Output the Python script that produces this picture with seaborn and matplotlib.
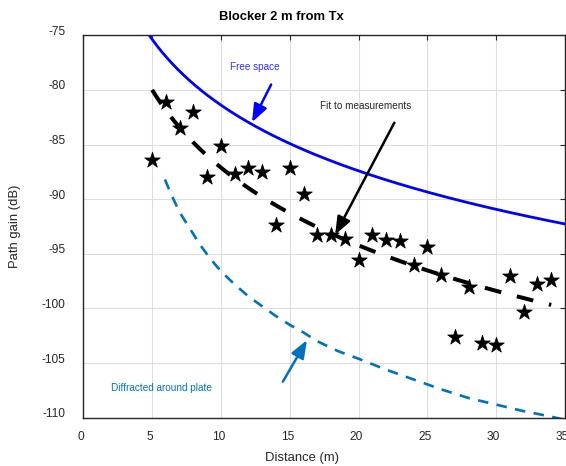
import numpy as np
import pandas as pd
import matplotlib
matplotlib.use("Agg")
import matplotlib.pyplot as plt
import seaborn as sns
from matplotlib.transforms import ScaledTranslation

# Measured path gain with the blocker 2 m from the transmitter
distance_m = [5, 6, 7, 8, 9, 10, 11, 12, 13, 14, 15, 16, 17, 18, 19, 20, 21, 22,
              23, 24, 25, 26, 27, 28, 29, 30, 31, 32, 33, 34]
measured_db = [-86.4, -81.1, -83.5, -82.0, -88.0, -85.1, -87.7, -87.1, -87.5, -92.4,
               -87.1, -89.5, -93.3, -93.3, -93.6, -95.6, -93.3, -93.7, -93.8, -96.0,
               -94.4, -96.9, -102.6, -98.0, -103.2, -103.3, -97.0, -100.3, -97.8, -97.4]

# Diffraction-around-plate prediction
diffr_d = [5.93, 6.4, 7.0, 7.5, 8.0, 8.5, 9.2, 10.0, 11.0, 12.0, 13.0, 14.0, 15.0,
           16.0, 17.0, 18.5, 20.0, 22.0, 24.0, 26.0, 28.0, 30.0, 32.0, 34.0, 35.0]
diffr_db = [-88.2, -89.6, -91.2, -92.2, -93.2, -94.2, -95.4, -96.6, -97.8, -98.9,
            -99.8, -100.7, -101.5, -102.2, -103.0, -103.9, -104.6, -105.6, -106.5,
            -107.4, -108.2, -108.8, -109.4, -109.9, -110.2]

x_ticks = [0, 5, 10, 15, 20, 25, 30, 35]
y_ticks = [-110, -105, -100, -95, -90, -85, -80, -75]

# Free-space (Friis) path gain at 28 GHz
freq_hz = 28e9
c_light = 3e8
fs_d = np.linspace(1.0, 35.0, 300)
fs_db = -20 * np.log10(4 * np.pi * fs_d * freq_hz / c_light)

# Log-distance least-squares fit to the measurements
slope, icpt = np.polyfit(np.log10(distance_m), measured_db, 1)
fit_d = np.linspace(min(distance_m), max(distance_m), 200)
fit_db = icpt + slope * np.log10(fit_d)

sns.set_theme(style="white")
plt.rcParams["font.family"] = ["Liberation Sans", "DejaVu Sans"]

fig = plt.figure(figsize=(5.66, 4.66), dpi=100)
ax = fig.add_axes([0.1472, 0.1036, 0.8510, 0.8206])

blue = "#0000FF"
mblue = "#0072BD"
dark = "#262626"

sns.lineplot(x=fs_d, y=fs_db, ax=ax, color=blue, lw=2.0, sort=False)
sns.lineplot(x=diffr_d, y=diffr_db, ax=ax, color=mblue, lw=1.9, sort=False,
             linestyle=(0, (4.0, 3.2)))
sns.lineplot(x=fit_d, y=fit_db, ax=ax, color="black", lw=2.9, sort=False,
             linestyle=(0, (4.2, 4.0)))
sns.scatterplot(x=distance_m, y=measured_db, ax=ax, marker="*", s=140,
                color="black", edgecolor="black", linewidth=0.5, zorder=5)

ax.set_xlim(0, 35)
ax.set_ylim(-110, -75)
ax.set_xticks(x_ticks)
ax.set_yticks(y_ticks)
ax.set_xticklabels([str(v) for v in x_ticks])
ax.set_yticklabels([str(v) for v in y_ticks])
ax.grid(True, color="#dedede", lw=0.8)
ax.set_axisbelow(True)
for sp in ax.spines.values():
    sp.set_color(dark)
    sp.set_linewidth(1.0)
ax.tick_params(axis="both", direction="in", length=3.5, width=0.8, color=dark,
               labelcolor=dark, labelsize=8.6, top=True, right=True)
ax.tick_params(axis="y", pad=13)
ax.tick_params(axis="x", pad=9.5)
ax.set_xlabel("")
ax.set_ylabel("")

# MATLAB-like label placement
off_y = ScaledTranslation(0, 0.05, fig.dpi_scale_trans)
for t in ax.yaxis.get_major_ticks():
    t.label1.set_transform(t.label1.get_transform() + off_y)
off_x = ScaledTranslation(-0.025, 0, fig.dpi_scale_trans)
for t in ax.xaxis.get_major_ticks():
    t.label1.set_transform(t.label1.get_transform() + off_x)

W, H = 566, 466
fig.text(281 / W, 1 - 17 / H, "Blocker 2 m from Tx", ha="center", va="center",
         fontsize=9.4, fontweight="bold", color="black")
fig.text(302 / W, 1 - 458 / H, "Distance (m)", ha="center", va="center",
         fontsize=9.4, color=dark)
fig.text(15 / W, 1 - 226 / H, "Path gain (dB)", ha="center", va="center",
         rotation=90, fontsize=9.4, color=dark)

arrow = dict(arrowstyle="-|>,head_length=0.9,head_width=0.35", lw=1.8,
             shrinkA=0, shrinkB=0)
ax.text(12.47, -77.9, "Free space", color="#2f2fff", fontsize=7.2, ha="center", va="center")
ax.annotate("", xy=(12.26, -82.95), xytext=(13.65, -79.5),
            arrowprops=dict(arrow, color=blue))
ax.text(20.5, -81.5, "Fit to measurements", color=dark, fontsize=7.2,
        ha="center", va="center")
ax.annotate("", xy=(18.3, -93.25), xytext=(22.6, -83.0),
            arrowprops=dict(arrow, color="black"))
ax.text(5.67, -107.3, "Diffracted around plate", color=mblue, fontsize=7.2,
        ha="center", va="center")
ax.annotate("", xy=(16.25, -102.9), xytext=(14.5, -106.7),
            arrowprops=dict(arrow, color=mblue))

fig.savefig("out.png", dpi=100)
